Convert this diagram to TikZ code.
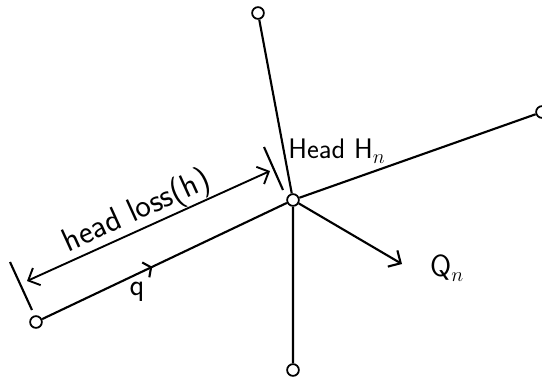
\documentclass[tikz,border=0pt]{standalone}
\usepackage{tikz}
\usetikzlibrary{arrows.meta, decorations.markings}

\tikzset{
  jn/.style={circle, draw, fill=white, line width=1.5pt, inner sep=0pt, minimum size=10pt},
  pipe/.style={line width=1.8pt},
  lbl/.style={font=\sffamily\fontsize{24}{26}\selectfont, inner sep=1pt},
}

\begin{document}
\begin{tikzpicture}[x=0.85pt, y=-0.85pt]
        \useasboundingbox (0,0) rectangle (542,380);
        \node[jn] (n) at (293,200) {}; %節点
        \node[jn] (top) at (258,13) {};
        \node[jn] (right) at (542,112) {};
        \node[jn] (bottom) at (293,370) {};
        \node[jn] (left) at (36,322) {};

        \draw[pipe] (n)--(top) (n)--(right) (n)--(bottom); %管路
        \draw[pipe, decoration={markings, mark=at position 0.45 with {\arrow{Straight Barb[length=5pt, width=14pt]}}}, postaction={decorate}] (left)--(n);
        \node[lbl, font=\sffamily\fontsize{26}{28}\selectfont] (q) at (137,292) {q};

        \coordinate (qend) at (402,264);
        \draw[pipe, -{Straight Barb[length=8pt, width=16pt]}] (n)--(qend); %流出量
        \node[lbl, font=\sffamily\fontsize{26}{28}\selectfont] (qn) at (447,268) {Q$_n$};

        \coordinate (ta) at (10,262); \coordinate (tb) at (32,310); %損失水頭の寸法線
        \coordinate (tc) at (264,147); \coordinate (td) at (283,190);
        \draw[pipe] (ta)--(tb) (tc)--(td);
        \coordinate (ha) at (27,281); \coordinate (hb) at (270,171);
        \draw[line width=1.6pt, {Straight Barb[length=8pt, width=16pt]}-{Straight Barb[length=8pt, width=16pt]}] (ha)--(hb);
        \node[lbl, font=\sffamily\fontsize{28}{30}\selectfont, rotate=24.5] (hl) at (137,212) {head loss(h)};

        \node[lbl, anchor=west] (head) at (287,151) {Head H$_n$};
    \end{tikzpicture}
\end{document}
